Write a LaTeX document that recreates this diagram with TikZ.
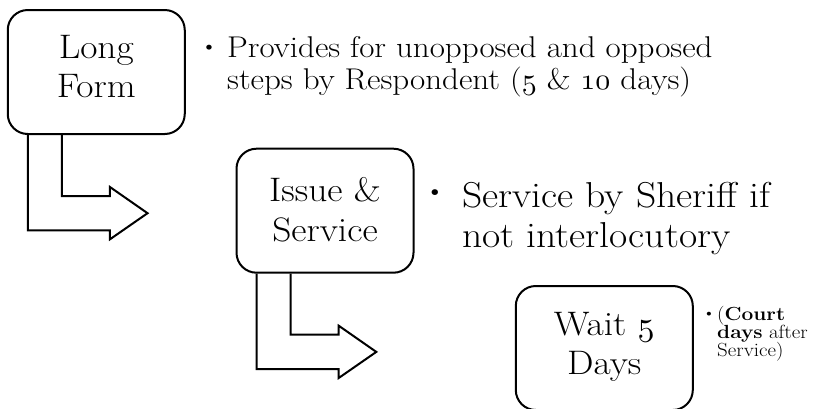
\documentclass[tikz,border=0pt]{standalone}
\usepackage{fontspec}
\setmainfont{Latin Modern Roman}[FakeStretch=1.1]
\usetikzlibrary{calc}
\DeclareFontShape{OML}{cmm}{m}{it}{<-> cmmi10}{}
\newcommand{\osn}[1]{$\mathnormal{#1}$}
\tikzset{
  stepbox/.style={draw=black, line width=2pt, rounded corners=20pt,
    minimum width=177pt, minimum height=124pt, inner sep=0pt},
  boxlbl/.style={anchor=base, inner sep=0pt, font=\fontsize{34}{39}\selectfont},
  bent/.style={draw=black, line width=2pt, line join=miter},
  txtA/.style={anchor=base west, inner sep=0pt, font=\fontsize{30}{33}\selectfont},
  txtB/.style={anchor=base west, inner sep=0pt, font=\fontsize{36}{40}\selectfont},
  txtC/.style={anchor=base west, inner sep=0pt, font=\fontsize{19}{18}\selectfont},
  bulA/.style={inner sep=0pt, font=\fontsize{22}{22}\selectfont},
  bulB/.style={inner sep=0pt, font=\fontsize{26}{26}\selectfont},
  bulC/.style={inner sep=0pt, font=\fontsize{14}{14}\selectfont},
}
\begin{document}
\begin{tikzpicture}[x=1pt,y=-1pt]
\useasboundingbox (0,0) rectangle (815,408);
\clip (0,0) rectangle (815,408);

% boxes
\node[stepbox] (lf) at (96.25,72) {};
\node[stepbox] (is) at (325,210.7) {};
\node[stepbox] (wt) at (604.3,348) {};

% box labels
\node[boxlbl] (lf1) at ($(lf.center)+(0,-14)$) {Long};
\node[boxlbl] (lf2) at ($(lf.center)+(0,25)$) {Form};
\node[boxlbl] (is1) at ($(is.center)+(0,-9)$) {Issue \&};
\node[boxlbl] (is2) at ($(is.center)+(0,31)$) {Service};
\node[boxlbl] (wt1) at ($(wt.center)+(0,-13)$) {Wait \osn{5}};
\node[boxlbl] (wt2) at ($(wt.center)+(0,26)$) {Days};

% bent arrows
\draw[bent] ($(lf.south west)+(21.2,0)$) -- ($(lf.south west)+(21.2,95.3)$)
  -- ($(lf.south west)+(103.2,95.3)$) -- ($(lf.south west)+(103.2,104.3)$)
  -- ($(lf.south west)+(140.8,78.2)$) -- ($(lf.south west)+(103.2,52)$)
  -- ($(lf.south west)+(103.2,61)$) -- ($(lf.south west)+(55.2,61)$)
  -- ($(lf.south west)+(55.2,0)$);
\draw[bent] ($(is.south west)+(21.2,0)$) -- ($(is.south west)+(21.2,95.3)$)
  -- ($(is.south west)+(103.2,95.3)$) -- ($(is.south west)+(103.2,104.3)$)
  -- ($(is.south west)+(140.8,78.2)$) -- ($(is.south west)+(103.2,52)$)
  -- ($(is.south west)+(103.2,61)$) -- ($(is.south west)+(55.2,61)$)
  -- ($(is.south west)+(55.2,0)$);

% bullet texts
\node[bulA] (b1) at (209,49) {\textbullet};
\node[txtA] (t1a) at (227,57) {Provides for unopposed and opposed};
\node[txtA] (t1b) at (227,89) {steps by Respondent (\osn{5} \& \osn{10} days)};

\node[bulB] (b2) at (435,195) {\textbullet};
\node[txtB] (t2a) at (462,207) {Service by Sheriff if};
\node[txtB] (t2b) at (462,247) {not interlocutory};

\node[bulC] (b3) at (709,315) {\textbullet};
\node[txtC] (t3a) at (717,320) {(\textbf{Court}};
\node[txtC] (t3b) at (717,338) {\textbf{days} after};
\node[txtC] (t3c) at (717,356) {Service)};
\end{tikzpicture}
\end{document}
